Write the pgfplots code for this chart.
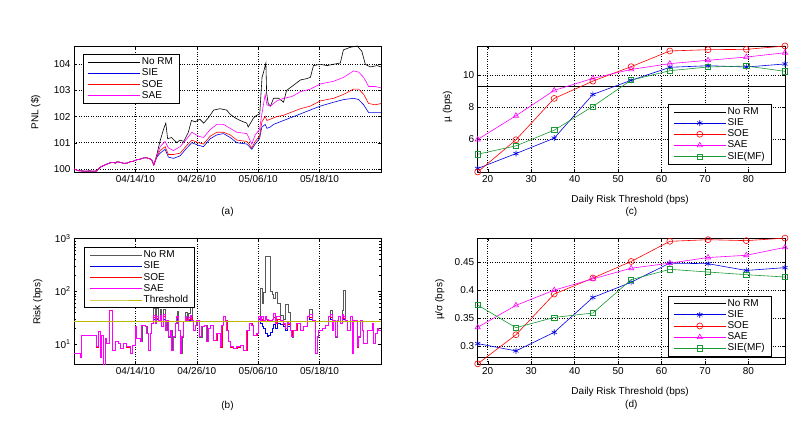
\documentclass[border=0pt]{standalone}
\usepackage{fontspec}
\setmainfont{Liberation Sans}
\usepackage{pgfplots}
\usepackage{pgfplotstable}
\pgfplotsset{compat=1.18}

\definecolor{mblue}{rgb}{0,0,0.9}
\definecolor{mred}{rgb}{1,0,0}
\definecolor{mmag}{rgb}{1,0,1}
\definecolor{mgreen}{rgb}{0.1,0.6,0.2}
\definecolor{molive}{rgb}{0.75,0.72,0}

\newcommand\fsz{\fontsize{10}{12}\selectfont}

% PNL, (a)
\pgfplotstableread{
x sie soe sae
0.00 100.00 100.00 100.00
0.30 99.96 99.96 99.96
0.57 99.93 99.93 99.93
1.00 99.92 99.92 99.92
1.50 99.91 99.91 99.91
2.00 99.92 99.92 99.92
2.50 99.91 99.91 99.91
2.96 99.92 99.92 99.92
3.20 100.00 100.00 100.00
3.40 100.06 100.06 100.06
3.80 100.12 100.12 100.12
4.26 100.18 100.18 100.18
4.70 100.23 100.23 100.23
5.10 100.25 100.25 100.25
5.40 100.22 100.22 100.22
5.60 100.27 100.27 100.27
6.00 100.25 100.25 100.25
6.50 100.21 100.21 100.21
6.90 100.22 100.22 100.22
7.30 100.27 100.27 100.27
7.70 100.29 100.29 100.29
8.20 100.35 100.35 100.35
8.60 100.37 100.37 100.37
9.10 100.42 100.42 100.42
9.50 100.42 100.42 100.42
9.80 100.39 100.39 100.39
10.10 100.36 100.36 100.36
10.40 100.15 100.15 100.15
10.80 100.45 100.48 100.50
11.22 100.60 100.70 100.85
11.87 100.75 100.85 101.05
12.30 100.45 100.55 100.80
12.96 100.40 100.55 100.70
13.83 100.50 100.60 100.85
14.70 100.80 100.90 101.15
15.35 101.00 101.10 101.40
16.22 100.90 101.00 101.25
16.87 100.85 100.95 101.20
17.74 101.15 101.25 101.50
18.61 101.30 101.40 101.70
19.48 101.35 101.40 101.70
20.35 101.20 101.30 101.55
21.22 101.00 101.10 101.40
22.52 100.95 101.05 101.35
23.17 100.75 100.80 100.95
23.61 100.95 101.05 101.30
24.17 101.15 101.25 101.50
24.48 101.60 101.80 102.10
24.91 101.70 102.00 102.85
25.13 101.55 101.85 102.45
25.57 101.60 101.90 102.40
26.00 101.70 101.95 102.50
26.43 101.75 102.00 102.60
27.30 101.85 102.05 102.70
28.17 101.95 102.15 102.75
28.61 102.00 102.20 102.80
29.48 102.10 102.30 102.95
30.78 102.25 102.40 103.05
32.09 102.40 102.60 103.25
33.83 102.55 102.70 103.35
35.13 102.65 102.85 103.50
36.43 102.70 103.05 103.75
37.09 102.65 103.05 103.70
37.74 102.45 102.85 103.50
38.39 102.15 102.50 103.15
39.26 102.15 102.45 103.15
40.00 102.15 102.50 103.10
}\pnl

\pgfplotstableread{
x norm
0.00 100.00
0.30 99.96
0.57 99.93
1.00 99.92
1.50 99.91
2.00 99.92
2.50 99.91
2.96 99.92
3.20 100.00
3.40 100.06
3.80 100.12
4.26 100.18
4.70 100.23
5.10 100.25
5.40 100.22
5.60 100.27
6.00 100.25
6.50 100.21
6.90 100.22
7.30 100.27
7.70 100.29
8.20 100.35
8.60 100.37
9.10 100.42
9.50 100.42
9.80 100.39
10.10 100.36
10.40 100.15
10.80 100.55
11.20 101.05
11.65 101.50
11.96 101.75
12.20 101.15
12.70 101.20
13.40 101.00
13.80 101.10
14.30 101.05
14.90 101.40
15.30 101.85
15.80 101.80
16.40 101.90
16.90 101.75
17.50 101.95
18.20 102.25
19.00 102.30
19.90 102.25
20.30 102.10
21.00 101.95
21.65 101.85
22.50 101.75
22.70 101.60
23.40 101.95
23.80 102.05
24.20 102.10
24.50 103.50
24.70 103.70
25.00 104.05
25.10 102.90
25.30 102.50
25.60 102.40
26.00 102.70
26.65 102.70
27.30 102.55
27.70 103.00
28.60 103.20
29.50 103.40
30.30 103.45
30.80 103.50
31.20 103.95
32.10 104.00
32.96 103.95
33.80 104.00
34.70 104.05
35.10 104.55
36.00 104.65
36.90 104.70
37.50 104.50
37.96 104.00
38.60 103.90
39.50 103.95
40.00 103.90
}\pnlnorm

% risk, (b)
\pgfplotstableread{
x norm sie soe sae
0.00 6.6 6.6 6.6 6.6
0.78 5.7 5.7 5.7 5.7
1.00 14.8 14.8 14.8 14.8
2.87 8.9 8.9 8.9 8.9
3.17 17.2 17.2 17.2 17.2
3.39 5.7 5.7 5.7 5.7
3.61 14.8 14.8 14.8 14.8
3.83 4.0 4.0 4.0 4.0
4.04 12.8 12.8 12.8 12.8
4.26 10.3 10.3 10.3 10.3
4.61 44.4 44.4 44.4 44.4
4.91 44.4 44.4 44.4 44.4
5.04 7.7 7.7 7.7 7.7
5.35 11.1 11.1 11.1 11.1
5.78 10.3 10.3 10.3 10.3
6.00 8.3 8.3 8.3 8.3
6.43 10.3 10.3 10.3 10.3
6.87 8.9 8.9 8.9 8.9
7.30 6.6 6.6 6.6 6.6
7.65 9.6 9.6 9.6 9.6
7.96 21.4 21.4 21.4 21.4
8.17 12.8 12.8 12.8 12.8
8.61 11.1 11.1 11.1 11.1
8.83 23.0 23.0 23.0 23.0
9.26 21.4 21.4 21.4 21.4
9.48 16.0 16.0 16.0 16.0
9.70 7.7 7.7 7.7 7.7
9.91 16.0 16.0 16.0 16.0
10.13 24.8 24.8 24.8 24.8
10.35 47.0 30.0 33.0 35.0
10.57 24.8 24.8 24.8 24.8
10.78 48.0 29.0 31.0 33.0
11.00 28.6 28.6 28.6 28.6
11.22 45.0 30.0 33.0 35.0
11.43 21.4 21.4 21.4 21.4
11.65 46.0 30.0 34.0 36.0
11.87 18.5 18.5 18.5 18.5
12.09 28.6 28.6 28.6 28.6
12.30 13.8 13.8 13.8 13.8
12.52 18.5 18.5 18.5 18.5
12.74 7.7 7.7 7.7 7.7
12.96 13.8 13.8 13.8 13.8
13.17 24.8 24.8 24.8 24.8
13.39 42.0 30.0 32.0 34.0
13.61 18.5 18.5 18.5 18.5
13.83 6.6 6.6 6.6 6.6
14.04 13.8 13.8 13.8 13.8
14.26 26.6 26.6 26.6 26.6
14.48 40.0 29.0 31.0 33.0
14.70 28.6 28.6 28.6 28.6
14.91 38.0 28.0 30.0 32.0
15.13 51.0 30.0 33.0 35.0
15.35 28.6 28.6 28.6 28.6
15.57 18.5 18.5 18.5 18.5
15.78 23.0 23.0 23.0 23.0
16.00 28.6 28.6 28.6 28.6
16.35 13.8 13.8 13.8 13.8
16.65 21.4 21.4 21.4 21.4
16.96 23.0 23.0 23.0 23.0
17.30 11.1 11.1 11.1 11.1
17.52 19.9 19.9 19.9 19.9
17.74 23.0 23.0 23.0 23.0
18.17 11.9 11.9 11.9 11.9
18.61 16.0 16.0 16.0 16.0
19.04 8.9 8.9 8.9 8.9
19.26 23.0 23.0 23.0 23.0
19.48 33.2 33.2 33.2 33.2
19.70 28.6 28.6 28.6 28.6
19.91 18.5 18.5 18.5 18.5
20.13 11.1 11.1 11.1 11.1
20.35 8.9 8.9 8.9 8.9
20.78 8.3 8.3 8.3 8.3
21.22 8.9 8.9 8.9 8.9
21.65 9.6 9.6 9.6 9.6
22.09 7.7 7.7 7.7 7.7
22.52 18.5 18.5 18.5 18.5
22.87 24.8 24.8 24.8 24.8
23.17 23.0 23.0 23.0 23.0
23.39 14.8 14.8 14.8 14.8
23.83 16.0 16.0 16.0 16.0
24.04 33.2 30.0 31.0 33.2
24.26 113.0 25.0 28.0 28.6
24.48 60.0 22.0 30.0 33.0
24.70 95.0 20.0 27.0 28.6
24.91 455.0 16.0 30.0 33.0
25.13 470.0 14.0 28.0 30.0
25.35 455.0 15.0 27.0 28.0
25.57 100.0 17.0 28.0 28.6
25.80 90.0 20.0 29.0 30.0
26.00 75.0 24.0 33.0 38.0
26.20 95.0 20.0 25.0 25.0
26.43 60.0 25.0 30.0 33.0
26.87 35.0 24.0 27.0 28.6
27.30 30.0 22.0 24.0 24.8
27.52 58.0 18.0 20.0 20.0
27.74 58.0 22.0 25.0 26.6
27.96 40.0 22.0 24.0 24.8
28.17 18.5 18.5 18.5 18.5
28.39 13.8 13.8 13.8 13.8
28.61 18.5 18.5 18.5 18.5
29.04 24.8 24.8 24.8 24.8
29.48 18.5 18.5 18.5 18.5
29.91 21.4 21.4 21.4 21.4
30.35 33.2 33.2 33.2 33.2
30.70 45.0 30.0 33.0 36.0
31.00 28.6 28.6 28.6 28.6
31.43 6.6 6.6 6.6 6.6
31.65 13.8 13.8 13.8 13.8
31.87 18.5 18.5 18.5 18.5
32.30 19.9 19.9 19.9 19.9
32.74 23.0 23.0 23.0 23.0
33.17 33.2 33.2 33.2 33.2
33.39 44.0 30.0 33.0 36.0
33.61 18.5 18.5 18.5 18.5
33.83 28.6 28.6 28.6 28.6
34.04 13.8 13.8 13.8 13.8
34.26 28.6 28.6 28.6 28.6
34.48 33.2 33.2 33.2 33.2
34.70 24.8 24.8 24.8 24.8
34.91 44.0 30.0 33.0 36.0
35.13 107.0 29.0 31.0 33.0
35.35 28.6 28.6 28.6 28.6
35.57 18.5 18.5 18.5 18.5
36.00 33.2 33.2 33.2 33.2
36.22 6.6 6.6 6.6 6.6
36.43 28.6 28.6 28.6 28.6
36.87 8.9 8.9 8.9 8.9
37.09 13.8 13.8 13.8 13.8
37.30 28.6 28.6 28.6 28.6
37.52 18.5 18.5 18.5 18.5
37.74 10.3 10.3 10.3 10.3
38.17 18.5 18.5 18.5 18.5
38.61 18.5 18.5 18.5 18.5
38.83 24.8 24.8 24.8 24.8
39.04 10.3 10.3 10.3 10.3
39.26 16.0 16.0 16.0 16.0
39.48 19.9 19.9 19.9 19.9
39.70 18.5 18.5 18.5 18.5
40.00 21.4 21.4 21.4 21.4
}\risk

% mean, (c)
\pgfplotstableread{
thr sie soe sae mf
17.7 4.19 3.97 6.00 5.08
26.5 5.12 5.98 7.48 5.60
35.3 6.08 8.56 9.06 6.58
44.2 8.81 9.64 9.81 8.06
53.0 9.69 10.54 10.37 9.70
61.9 10.50 11.52 10.73 10.29
70.7 10.60 11.60 10.94 10.52
79.5 10.52 11.62 11.14 10.58
88.4 10.71 11.83 11.41 10.25
}\mu

% mean/std, (d)
\pgfplotstableread{
thr sie soe sae mf
17.7 0.305 0.2690 0.334 0.3735
26.5 0.292 0.3207 0.373 0.3332
35.3 0.325 0.3930 0.400 0.3515
44.2 0.387 0.4215 0.420 0.3593
53.0 0.414 0.4510 0.439 0.4186
61.9 0.448 0.4868 0.448 0.4370
70.7 0.447 0.4897 0.458 0.4322
79.5 0.435 0.4880 0.462 0.4275
88.4 0.440 0.4925 0.476 0.4233
}\sharpe

\pgfplotsset{
  mfig/.style={
    scale only axis, anchor=south west, width=307pt, height=126pt,
    axis line style={line width=0.5pt},
    every tick/.style={black, line width=0.4pt},
    major tick length=3pt, minor tick length=1.8pt,
    grid style={black, dotted, line width=0.5pt},
    tick label style={font=\fsz},
    label style={font=\fsz},
    every axis title/.style={font=\fsz, anchor=center},
    /pgf/number format/assume math mode=true,
    legend cell align=left,
    legend style={draw=black, line width=0.5pt, fill=white, font=\fsz,
      inner xsep=5pt, inner ysep=2pt, row sep=0pt,
      nodes={inner sep=1.5pt, text height=6.6pt, text depth=1.6pt}},
    legend image code/.code={\draw[mark repeat=2,mark phase=2,##1]
      plot coordinates {(0pt,0pt) (26pt,0pt) (52pt,0pt)};},
    every axis plot/.append style={line width=0.6pt},
  },
}

\begin{document}
\begin{tikzpicture}[x=1pt,y=1pt]
\path[use as bounding box] (0,0) rectangle (809,429);

% (a)
\begin{axis}[mfig, at={(74pt,257pt)},
  xmin=0, xmax=40, ymin=99.88, ymax=104.7,
  xtick={8,16,24,32},
  xticklabels={04/14/10,04/26/10,05/06/10,05/18/10},
  ytick={100,101,102,103,104},
  grid=major,
  ylabel={PNL (\$)},
  ylabel style={at={(axis description cs:-0.125,0.476)}, anchor=center},
  title={(a)},
  title style={at={(axis description cs:0.5,-0.317)}},
  legend style={at={(0.028,0.934)}, anchor=north west}]
\addplot[black, no marks] table[x=x, y=norm] {\pnlnorm};
\addplot[mblue, no marks] table[x=x, y=sie] {\pnl};
\addplot[mred, no marks] table[x=x, y=soe] {\pnl};
\addplot[mmag, no marks] table[x=x, y=sae] {\pnl};
\legend{No RM, SIE, SOE, SAE}
\end{axis}

% (b)
\begin{axis}[mfig, at={(74pt,65pt)}, height=125.3pt,
  ymode=log,
  xmin=0, xmax=40, ymin=4.2, ymax=1000,
  xtick={8,16,24,32},
  xticklabels={04/14/10,04/26/10,05/06/10,05/18/10},
  ytick={10,100,1000},
  yticklabels={10\textsuperscript{1},10\textsuperscript{2},10\textsuperscript{3}},
  xmajorgrids=true,
  ylabel={Risk (bps)},
  ylabel style={at={(axis description cs:-0.118,0.495)}, anchor=center},
  title={(b)},
  title style={at={(axis description cs:0.5,-0.335)}},
  legend style={at={(0.033,0.931)}, anchor=north west}]
\addplot[black!65, no marks, const plot, line width=0.5pt] table[x=x, y=norm] {\risk};
\addplot[mblue, no marks, const plot] table[x=x, y=sie] {\risk};
\addplot[mred, no marks, const plot] table[x=x, y=soe] {\risk};
\addplot[mmag, no marks, const plot, line width=0.8pt] table[x=x, y=sae] {\risk};
\addplot[molive, no marks, line width=0.8pt] coordinates {(0,26.5) (40,26.5)};
\legend{No RM, SIE, SOE, SAE, Threshold}
\end{axis}

% (c)
\begin{axis}[mfig, at={(477.7pt,257pt)}, width=307.3pt,
  xmin=17.7, xmax=88.4, ymin=3.97, ymax=11.83,
  xtick={20,30,...,80},
  ytick={6,8,10},
  grid=major,
  xlabel={Daily Risk Threshold (bps)},
  xlabel style={at={(axis description cs:0.496,-0.225)}, anchor=center},
  ylabel={µ (bps)},
  ylabel style={at={(axis description cs:-0.098,0.518)}, anchor=center},
  title={(c)},
  title style={at={(axis description cs:0.5,-0.317)}},
  legend style={at={(0.62,0.54)}, anchor=north west},
  mark size=3pt]
\addplot[black, no marks] coordinates {(17.7,9.31) (88.4,9.31)};
\addplot[mblue, mark=asterisk] table[x=thr, y=sie] {\mu};
\addplot[mred, mark=o] table[x=thr, y=soe] {\mu};
\addplot[mmag, mark=triangle] table[x=thr, y=sae] {\mu};
\addplot[mgreen, mark=square, mark size=2.6pt] table[x=thr, y=mf] {\mu};
\legend{No RM, SIE, SOE, SAE, SIE(MF)}
\end{axis}

% (d)
\begin{axis}[mfig, at={(477.7pt,65pt)}, width=307.3pt,
  xmin=17.7, xmax=88.4, ymin=0.2687, ymax=0.4927,
  xtick={20,30,...,80},
  ytick={0.3,0.35,0.4,0.45},
  grid=major,
  xlabel={Daily Risk Threshold (bps)},
  xlabel style={at={(axis description cs:0.496,-0.222)}, anchor=center},
  ylabel={µ/σ (bps)},
  ylabel style={at={(axis description cs:-0.123,0.51)}, anchor=center},
  title={(d)},
  title style={at={(axis description cs:0.5,-0.323)}},
  legend style={at={(0.62,0.542)}, anchor=north west},
  mark size=3pt]
\addplot[black, no marks] coordinates {(17.7,0.28) (88.4,0.28)};
\addplot[mblue, mark=asterisk] table[x=thr, y=sie] {\sharpe};
\addplot[mred, mark=o] table[x=thr, y=soe] {\sharpe};
\addplot[mmag, mark=triangle] table[x=thr, y=sae] {\sharpe};
\addplot[mgreen, mark=square, mark size=2.6pt] table[x=thr, y=mf] {\sharpe};
\legend{No RM, SIE, SOE, SAE, SIE(MF)}
\end{axis}
\end{tikzpicture}
\end{document}
